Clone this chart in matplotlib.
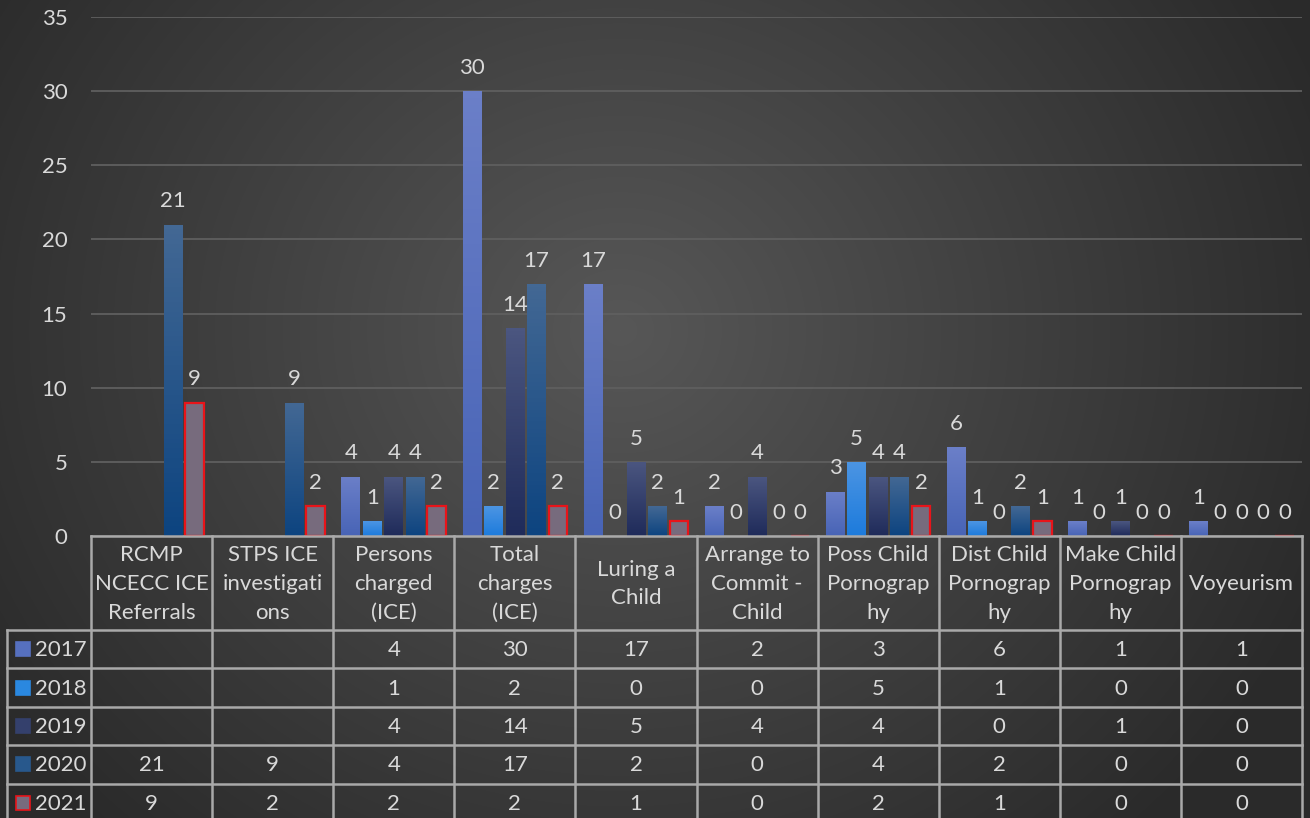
import numpy as np
import matplotlib.pyplot as plt
from matplotlib.colors import to_rgb

plt.rcParams['font.family'] = ['Lato', 'DejaVu Sans']

categories = ["RCMP\nNCECC ICE\nReferrals", "STPS ICE\ninvestigati\nons", "Persons\ncharged\n(ICE)",
              "Total\ncharges\n(ICE)", "Luring a\nChild", "Arrange to\nCommit -\nChild",
              "Poss Child\nPornograp\nhy", "Dist Child\nPornograp\nhy", "Make Child\nPornograp\nhy",
              "Voyeurism"]
years = ["2017", "2018", "2019", "2020", "2021"]
v2017 = [None, None, 4, 30, 17, 2, 3, 6, 1, 1]
v2018 = [None, None, 1, 2, 0, 0, 5, 1, 0, 0]
v2019 = [None, None, 4, 14, 5, 4, 4, 0, 1, 0]
v2020 = [21, 9, 4, 17, 2, 0, 4, 2, 0, 0]
v2021 = [9, 2, 2, 2, 1, 0, 2, 1, 0, 0]
series = [v2017, v2018, v2019, v2020, v2021]

# (top colour, bottom colour) per year
grads = [("#6b7fc8", "#4864b6"), ("#4c95e3", "#1d7bdc"), ("#4b5680", "#1f2b5a"),
         ("#436894", "#0d4480"), ("#776b7d", "#776b7d")]
legend_fill = ["#5670bf", "#2a88e0", "#34406c", "#28588c", "#776b7d"]
txt = "#d9d9d9"
line_c = "#a9a9a9"
fs = 16

W, H = 1310, 818
fig = plt.figure(figsize=(W / 100, H / 100), dpi=100)

# radial background
bg = fig.add_axes([0, 0, 1, 1])
yy, xx = np.mgrid[0:H, 0:W]
r = np.sqrt((xx - 620) ** 2 + ((yy - 330) * 1.1) ** 2) / 760
r = np.clip(r, 0, 1)
c0, c1 = np.array(to_rgb("#575757")), np.array(to_rgb("#2a2a2a"))
img = c0[None, None, :] * (1 - r[..., None]) + c1[None, None, :] * r[..., None]
bg.imshow(img, extent=[0, W, H, 0], aspect='auto')
bg.set_xlim(0, W)
bg.set_ylim(H, 0)
bg.axis('off')

L, R, T, B = 91, 1302, 17, 536
ax = fig.add_axes([L / W, (H - B) / H, (R - L) / W, (B - T) / H])
ax.set_facecolor('none')

n = len(categories)
x = np.arange(n)
step, bw = 0.1775, 0.153
for i, (vals, (ctop, cbot)) in enumerate(zip(series, grads)):
    xs = x + (i - 2) * step
    hs = [v if v is not None else 0 for v in vals]
    if i == 4:
        bars = ax.bar(xs, hs, bw, color=ctop, edgecolor="#e8141a", linewidth=1.6, zorder=3)
    else:
        bars = ax.bar(xs, hs, bw, color=cbot, linewidth=0, zorder=3)
        g = np.linspace(0, 1, 64)[:, None, None]
        grad = np.array(to_rgb(cbot)) * (1 - g) + np.array(to_rgb(ctop)) * g
        for rect in bars:
            h = rect.get_height()
            if h <= 0:
                continue
            x0 = rect.get_x()
            im = ax.imshow(grad, extent=[x0, x0 + bw, 0, h], origin='lower',
                           aspect='auto', zorder=3.5)
            im.set_clip_path(rect)
    for xi, v in zip(xs, vals):
        if v is None:
            continue
        ax.annotate(str(v), (xi, v), xytext=(0, 9.5), textcoords='offset points',
                    ha='center', va='bottom', color=txt, fontsize=fs, zorder=5)

ax.set_xlim(-0.5, n - 0.5)
ax.set_ylim(0, 35)
ax.set_yticks(range(0, 36, 5))
ax.set_xticks([])
ax.tick_params(axis='y', length=0, pad=17, labelsize=fs, labelcolor=txt)
ax.grid(axis='y', color="#5f5f5f", linewidth=1.3, zorder=0)
for s in ax.spines.values():
    s.set_visible(False)

# data table drawn in pixel space
ov = fig.add_axes([0, 0, 1, 1])
ov.set_xlim(0, W)
ov.set_ylim(H, 0)
ov.axis('off')
ov.patch.set_alpha(0)
cw = (R - L) / n
hdr_bot = 630
rh = 38.4
rows_y = [hdr_bot + k * rh for k in range(len(years) + 1)]
lw = 1.8
ov.plot([L, R], [B, B], color=line_c, lw=lw)
ov.plot([7, R], [hdr_bot, hdr_bot], color=line_c, lw=lw)
for yv in rows_y[1:]:
    ov.plot([7, R], [yv, yv], color=line_c, lw=lw)
for k in range(n + 1):
    ov.plot([L + k * cw] * 2, [B, H], color=line_c, lw=lw)
ov.plot([7, 7], [hdr_bot, H], color=line_c, lw=lw)

for k, cat in enumerate(categories):
    ov.text(L + (k + 0.5) * cw, (B + hdr_bot) / 2 + 1, cat, ha='center', va='center',
            color=txt, fontsize=fs, linespacing=1.55)

for j, (yr, vals) in enumerate(zip(years, series)):
    yc = rows_y[j] + rh / 2
    ec = "#e8141a" if j == 4 else legend_fill[j]
    ov.add_patch(plt.Rectangle((16, yc - 7), 14, 14, facecolor=legend_fill[j],
                               edgecolor=ec, linewidth=1.2))
    ov.text(35, yc + 1, yr, ha='left', va='center', color=txt, fontsize=fs)
    for k, v in enumerate(vals):
        if v is None:
            continue
        ov.text(L + (k + 0.5) * cw, yc + 1, str(v), ha='center', va='center',
                color=txt, fontsize=fs)

fig.savefig("out.png", dpi=100)
